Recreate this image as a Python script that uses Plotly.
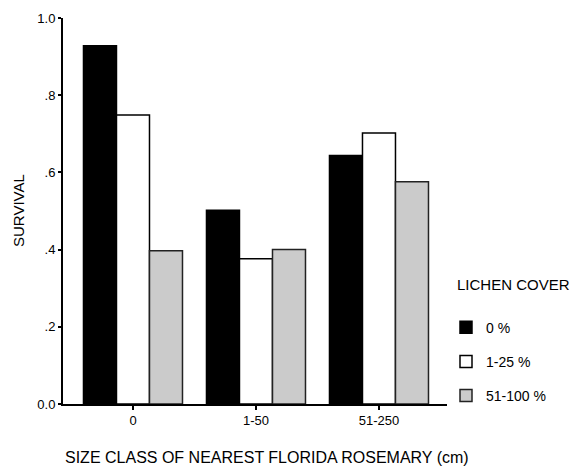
import plotly.graph_objects as go

# Survival by size class of nearest Florida rosemary, split by lichen cover
size_classes = ["0", "1-50", "51-250"]
cover_labels = ["0 %", "1-25 %", "51-100 %"]
surv_0 = [0.928, 0.502, 0.644]
surv_1_25 = [0.749, 0.376, 0.702]
surv_51_100 = [0.397, 0.400, 0.576]

y_tick_vals = [0.0, 0.2, 0.4, 0.6, 0.8, 1.0]
y_tick_text = ["0.0", ".2", ".4", ".6", ".8", "1.0"]

FONT = "Liberation Sans, Arial, Helvetica, sans-serif"

series = [surv_0, surv_1_25, surv_51_100]
styles = [
    dict(color="black", line=dict(color="black", width=1.5)),
    dict(color="white", line=dict(color="black", width=1.5)),
    dict(color="white", line=dict(color="#222", width=1.5),
         pattern=dict(shape=".", size=2, solidity=0.5,
                      fgcolor="#8a8a8a", bgcolor="white", fillmode="replace")),
]

fig = go.Figure()
for i, (label, vals, st) in enumerate(zip(cover_labels, series, styles)):
    fig.add_trace(go.Bar(
        x=size_classes, y=vals, name=label, marker=st,
        legendgroup=f"g{i}",
    ))

fig.update_layout(
    width=574, height=468,
    margin=dict(l=63, r=127, t=18, b=63.5, autoexpand=False),
    paper_bgcolor="white", plot_bgcolor="white",
    barmode="group", bargap=0.195, bargroupgap=0,
    font=dict(family=FONT, size=13, color="black"),
    showlegend=True,
    legend=dict(
        x=(446 - 63) / 384, xanchor="left",
        y=(404.5 - 312) / 386.5, yanchor="top",
        font=dict(size=14), tracegroupgap=13,
        bgcolor="rgba(0,0,0,0)", borderwidth=0,
    ),
    xaxis=dict(
        range=[-0.569, 2.553], showline=True, linecolor="black", linewidth=1.5,
        ticks="outside", ticklen=4, tickwidth=2, tickcolor="black",
        showgrid=False, zeroline=False, fixedrange=True,
    ),
    yaxis=dict(
        range=[0, 1.0], showline=True, linecolor="black", linewidth=2,
        ticks="outside", ticklen=3, tickwidth=1.5, tickcolor="black",
        tickvals=y_tick_vals, ticktext=y_tick_text,
        showgrid=False, zeroline=False, fixedrange=True,
    ),
    annotations=[
        dict(text="SURVIVAL", textangle=-90, xref="paper", yref="paper",
             x=(18 - 63) / 384, y=0.5, xanchor="center", yanchor="middle",
             showarrow=False, font=dict(size=15)),
        dict(text="SIZE CLASS OF NEAREST FLORIDA ROSEMARY (cm)",
             xref="paper", yref="paper", x=(267 - 63) / 384,
             y=(404.5 - 458) / 386.5, xanchor="center", yanchor="middle",
             showarrow=False, font=dict(size=16)),
        dict(text="LICHEN COVER", xref="paper", yref="paper",
             x=(455 - 63) / 384, y=(404.5 - 285) / 386.5,
             xanchor="left", yanchor="middle", showarrow=False,
             font=dict(size=15)),
    ],
)

fig.write_html("out.html")
